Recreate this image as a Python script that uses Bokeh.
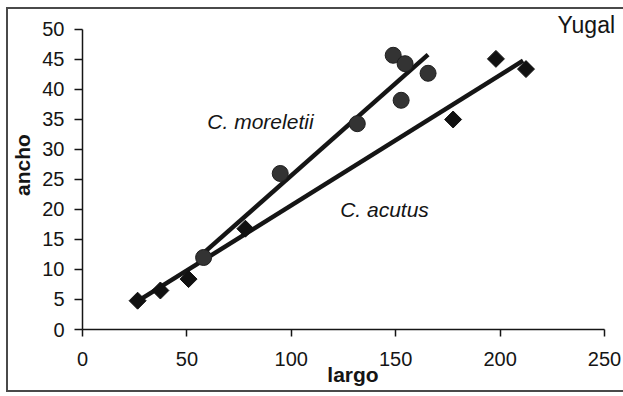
from bokeh.plotting import figure
from bokeh.models import Label, FixedTicker, Range1d, InlineStyleSheet
from bokeh.embed import file_html
from bokeh.resources import INLINE
import math

# --- data ---
moreletii_largo = [58, 94.7, 131.6, 148.8, 154.5, 152.6, 165.5]
moreletii_ancho = [12, 26, 34.3, 45.7, 44.3, 38.2, 42.7]
acutus_largo = [26.4, 37.3, 50.8, 78, 177.5, 198, 212.4]
acutus_ancho = [4.8, 6.5, 8.4, 16.8, 35, 45.1, 43.4]
# fitted lines (endpoints)
moreletii_fit_x = [57.5, 165.5]
moreletii_fit_y = [12.6, 45.8]
acutus_fit_x = [26.8, 211]
acutus_fit_y = [4.8, 44.8]

x_ticks = [0, 50, 100, 150, 200, 250]
y_ticks = [0, 5, 10, 15, 20, 25, 30, 35, 40, 45, 50]

FONT = "Liberation Sans"
INK = "#151515"

# frame spans to the top/right edges so the "Yugal" label is not clipped;
# axes are bounded to 0..250 and 0..50
p = figure(width=623, height=396, output_backend="svg", toolbar_location=None,
           x_range=Range1d(0, 259.1), y_range=Range1d(0, 54.83),
           min_border_left=82, min_border_right=0, min_border_top=0, min_border_bottom=67)
p.background_fill_color = None
p.border_fill_color = None
p.outline_line_color = None
p.grid.visible = False

# outer frame of the scanned figure panel (left, top, bottom edges), painted
# behind the transparent canvas
frame_css = """
:host {
  background-color: #ffffff;
  background-image: linear-gradient(#4a4a4a, #4a4a4a), linear-gradient(#4a4a4a, #4a4a4a),
                    linear-gradient(#4a4a4a, #4a4a4a);
  background-size: 2px 385px, 617px 2px, 617px 2px;
  background-position: 6px 7px, 6px 7px, 6px 390px;
  background-repeat: no-repeat;
}
"""
p.stylesheets = [InlineStyleSheet(css=frame_css)]

for ax in (p.xaxis[0], p.yaxis[0]):
    ax.axis_line_color = INK
    ax.axis_line_width = 1.5
    ax.major_tick_line_color = INK
    ax.major_tick_line_width = 1.5
    ax.major_tick_in = 0
    ax.major_tick_out = 7
    ax.minor_tick_line_color = None
    ax.major_label_text_font = FONT
    ax.major_label_text_font_size = "20px"
    ax.major_label_text_color = INK
    ax.axis_label_text_font = FONT
    ax.axis_label_text_font_style = "bold"
    ax.axis_label_text_font_size = "21px"
    ax.axis_label_text_color = INK

p.xaxis.ticker = FixedTicker(ticks=x_ticks)
p.yaxis.ticker = FixedTicker(ticks=y_ticks)
p.xaxis.bounds = (0, 250)
p.yaxis.bounds = (0, 50)
p.xaxis.major_label_standoff = 15
p.yaxis.major_label_standoff = 10
p.yaxis.major_tick_out = 8
p.xaxis.axis_label = "largo"
p.yaxis.axis_label = "ancho"
p.xaxis.axis_label_standoff = -6
p.yaxis.axis_label_standoff = 5

# regression lines
p.line(moreletii_fit_x, moreletii_fit_y, line_color=INK, line_width=4.5)
p.line(acutus_fit_x, acutus_fit_y, line_color=INK, line_width=4.5)

# points
p.scatter(moreletii_largo, moreletii_ancho, marker="circle", size=16,
          fill_color="#333333", line_color="#1e1e1e", line_width=1)
p.scatter(acutus_largo, acutus_ancho, marker="square", size=12, angle=math.pi / 4,
          fill_color="#111111", line_color="#111111", line_width=1)

# species labels
p.add_layout(Label(x=59.8, y=32.8, text="C. moreletii", text_font=FONT,
                   text_font_style="italic", text_font_size="21px", text_color=INK))
p.add_layout(Label(x=123.4, y=18.0, text="C. acutus", text_font=FONT,
                   text_font_style="italic", text_font_size="21px", text_color=INK))

# panel title
p.add_layout(Label(x=475, y=292, x_units="screen", y_units="screen", text="Yugal",
                   text_font=FONT, text_font_size="23px", text_color=INK))

open("out.html", "w").write(file_html(p, INLINE))
